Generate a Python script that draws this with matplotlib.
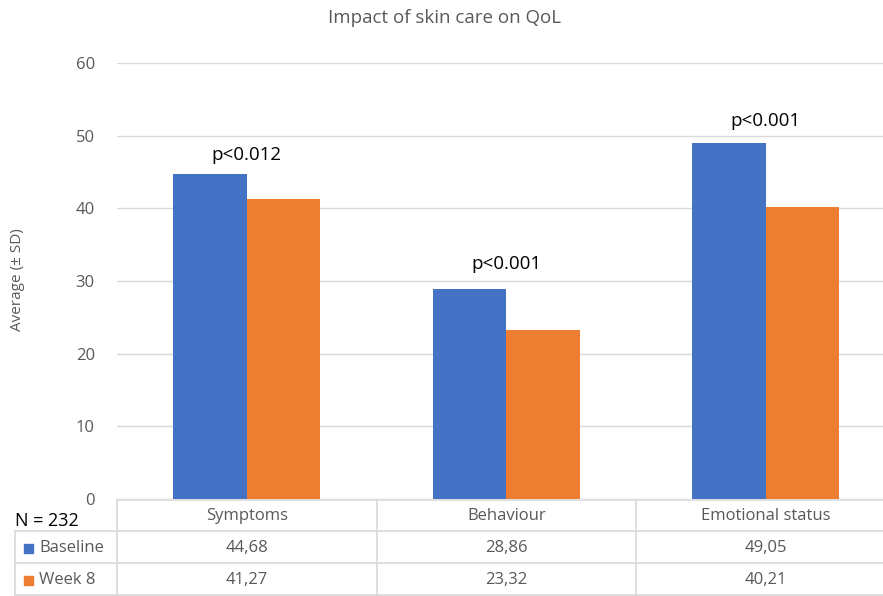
import matplotlib
matplotlib.use("Agg")
import matplotlib.pyplot as plt
import matplotlib.transforms as mtransforms
from matplotlib.lines import Line2D
from matplotlib.patches import Rectangle

categories = ["Symptoms", "Behaviour", "Emotional status"]
baseline = [44.68, 28.86, 49.05]
week8 = [41.27, 23.32, 40.21]
series_names = ["Baseline", "Week 8"]
p_labels = ["p<0.012", "p<0.001", "p<0.001"]
p_label_y = [47.3, 32.3, 52.0]
value_labels = [["44,68", "28,86", "49,05"], ["41,27", "23,32", "40,21"]]

BLUE = "#4472c4"
ORANGE = "#ed7d31"
GRID = "#d9d9d9"
TXT = "#595959"

W, H = 883, 596
plt.rcParams["font.family"] = ["Open Sans", "DejaVu Sans"]

fig = plt.figure(figsize=(W / 100, H / 100), dpi=100)


def fy(py):
    # pixel row (from top) -> figure fraction
    return 1 - py / H


def fx(px):
    return px / W


ax_left, ax_right, ax_top, ax_bot = 117, 895.5, 63, 499
ax = fig.add_axes([fx(ax_left), fy(ax_bot), fx(ax_right - ax_left), fy(ax_top) - fy(ax_bot)])

x = list(range(len(categories)))
bw = 0.283
ax.bar([i - bw / 2 for i in x], baseline, bw, color=BLUE, zorder=3)
ax.bar([i + bw / 2 for i in x], week8, bw, color=ORANGE, zorder=3)

for i, (lab, y) in enumerate(zip(p_labels, p_label_y)):
    ax.text(i, y, lab, ha="center", va="center", fontsize=13.5, color="black")

ax.set_xlim(-0.5, len(categories) - 0.5)
ax.set_ylim(0, 60)
ax.set_yticks(range(0, 61, 10))
ax.yaxis.grid(True, color=GRID, linewidth=1)
ax.set_axisbelow(True)
ax.tick_params(axis="y", length=0, pad=16, labelsize=12, labelcolor=TXT)
ax.set_xticks([])
for s in ax.spines.values():
    s.set_visible(False)

fig.text(fx(18), fy(280), "Average (\u00b1 SD)", rotation=90, ha="center", va="center",
         fontsize=11, color=TXT)
fig.text(fx(445), fy(18), "Impact of skin care on QoL", ha="center", va="center",
         fontsize=13.5, color=TXT)

# data table under the chart
row_lines = [500, 531, 563, 595]
trans = mtransforms.blended_transform_factory(ax.transData, fig.transFigure)
for j, py in enumerate(row_lines):
    x0 = fx(ax_left) if j == 0 else fx(15)
    fig.add_artist(Line2D([x0, 1], [fy(py), fy(py)], color=GRID, lw=1.2))
for b in [-0.5, 0.5, 1.5, 2.5]:
    fig.add_artist(Line2D([b, b], [fy(500), fy(596)], color=GRID, lw=1.2, transform=trans))
fig.add_artist(Line2D([fx(15), fx(15)], [fy(531), fy(596)], color=GRID, lw=1.2))

for i, cat in enumerate(categories):
    fig.text(i, fy(516), cat, ha="center", va="center", fontsize=12, color=TXT, transform=trans)
row_centers = [548, 580]
for r, (name, col, vals) in enumerate(zip(series_names, [BLUE, ORANGE], value_labels)):
    yc = fy(row_centers[r])
    fig.add_artist(Rectangle((fx(24), yc - 4.5 / H), 9 / W, 9 / H, color=col,
                             transform=fig.transFigure))
    fig.text(fx(39), yc, name, ha="left", va="center", fontsize=12, color=TXT)
    for i, v in enumerate(vals):
        fig.text(i, yc, v, ha="center", va="center", fontsize=12, color=TXT, transform=trans)

fig.text(fx(15), fy(521), "N = 232", ha="left", va="center", fontsize=13, color="black")

fig.savefig("out.png", dpi=100)
